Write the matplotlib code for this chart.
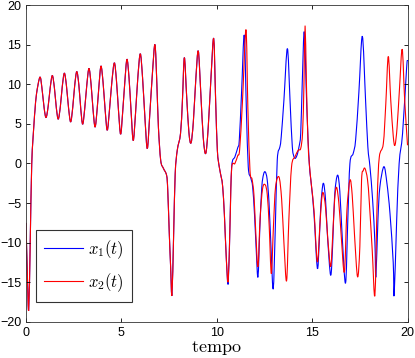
import matplotlib
matplotlib.use("Agg")
import matplotlib.pyplot as plt
from matplotlib.path import Path
from matplotlib.patches import PathPatch
from matplotlib.lines import Line2D
import numpy as np

plt.rcParams['mathtext.fontset'] = 'cm'
plt.rcParams['font.family'] = ['Liberation Sans', 'DejaVu Sans']

# shared part (both trajectories coincide up to t ~ 10.6)
t_common = [0.00, 0.07, 0.14, 0.22, 0.30, 0.42, 0.47, 0.55, 0.73, 0.84, 0.95, 1.05,
            1.16, 1.27, 1.38, 1.49, 1.59, 1.69, 1.80, 1.90, 2.01, 2.12, 2.23, 2.34,
            2.45, 2.55, 2.66, 2.77, 2.87, 2.97, 3.08, 3.19, 3.30, 3.41, 3.51, 3.62,
            3.73, 3.83, 3.93, 4.04, 4.15, 4.26, 4.38, 4.50, 4.63, 4.74, 4.85, 4.96,
            5.07, 5.18, 5.29, 5.40, 5.51, 5.62, 5.74, 5.86, 5.99, 6.11, 6.24, 6.36,
            6.49, 6.63, 6.76, 6.86, 6.94, 7.06, 7.20, 7.37, 7.43, 7.51, 7.58, 7.65,
            7.74, 7.82, 7.93, 8.10, 8.20, 8.30, 8.42, 8.54, 8.65, 8.77, 8.90, 9.03,
            9.16, 9.29, 9.42, 9.55, 9.70, 9.84, 9.94, 10.03, 10.13, 10.24, 10.31,
            10.40, 10.50]
x_common = [-7.5, -14.0, -18.5, -10.0, 0.0, 5.1, 6.7, 8.8, 10.9, 9.4, 7.0, 5.8,
            7.2, 9.6, 11.1, 9.5, 7.0, 5.6, 7.2, 9.7, 11.4, 9.8, 7.0, 5.25,
            7.1, 9.8, 11.6, 9.9, 6.9, 4.96, 7.0, 10.0, 12.0, 10.0, 6.9, 4.6,
            6.9, 10.0, 12.3, 10.2, 6.7, 4.2, 6.9, 10.3, 12.7, 10.5, 6.6, 3.7,
            6.6, 10.3, 13.15, 10.8, 6.5, 2.9, 6.3, 10.8, 13.85, 10.8, 5.5, 1.9,
            6.3, 11.5, 15.0, 10.0, 4.6, 0.4, -0.6, -1.5, -3.4, -8.8, -13.0, -16.6,
            -8.8, -1.3, 1.7, 3.8, 8.0, 13.36, 8.5, 3.9, 2.6, 5.2, 10.6, 14.2,
            9.0, 3.3, 1.26, 4.5, 11.0, 15.76, 8.0, 1.68, -0.42, -1.8, -2.95,
            -6.5, -12.0]

t_x1 = [10.60, 10.70, 10.78, 10.95, 11.10, 11.18, 11.30, 11.44, 11.55, 11.65, 11.78,
        11.88, 11.98, 12.07, 12.16, 12.26, 12.36, 12.45, 12.54, 12.64, 12.74, 12.85,
        12.96, 13.07, 13.17, 13.31, 13.38, 13.52, 13.70, 13.84, 13.96, 14.08, 14.20,
        14.31, 14.40, 14.48, 14.59, 14.72, 14.85, 14.97, 15.10, 15.27, 15.37, 15.45,
        15.58, 15.70, 15.80, 15.97, 16.08, 16.18, 16.33, 16.45, 16.57, 16.75, 16.87,
        16.98, 17.15, 17.28, 17.45, 17.63, 17.80, 17.92, 18.03, 18.17, 18.29, 18.34,
        18.45, 18.55, 18.76, 18.92, 19.08, 19.25, 19.30, 19.43, 19.56, 19.74, 19.95,
        20.00]
x_x1 = [-15.1, -7.0, -0.4, 0.84, 2.0, 2.94, 9.0, 16.2, 7.0, -0.4, -1.8,
        -2.95, -6.5, -11.0, -14.3, -8.0, -3.0, -1.4, -1.06, -2.0, -5.0, -11.0,
        -15.8, -8.0, 0.42, 2.1, 3.4, 8.0, 14.5, 8.0, 2.1, 0.7, 1.0,
        2.1, 3.8, 10.1, 16.6, 7.0, 0.0, -2.95, -6.5, -13.2, -10.0, -5.5,
        -2.5, -4.5, -9.0, -14.1, -10.0, -4.0, -1.47, -3.5, -9.0, -15.1, -7.0,
        0.0, 1.26, 3.0, 9.0, 16.05, 8.0, 2.1, -0.4, -4.6, -10.0, -14.3,
        -7.0, -2.95, -0.4, -2.5, -6.3, -12.5, -16.6, -7.2, 0.0, 3.8, 12.0,
        13.0]

t_x2 = [10.60, 10.70, 10.78, 10.95, 11.10, 11.20, 11.35, 11.53, 11.63, 11.74, 11.85,
        11.95, 12.05, 12.16, 12.27, 12.40, 12.54, 12.65, 12.75, 12.86, 12.97, 13.08,
        13.26, 13.40, 13.52, 13.66, 13.78, 13.92, 14.10, 14.27, 14.40, 14.50, 14.57,
        14.63, 14.70, 14.78, 14.85, 14.97, 15.10, 15.27, 15.40, 15.50, 15.58, 15.70,
        15.82, 15.97, 16.08, 16.18, 16.28, 16.40, 16.52, 16.69, 16.82, 16.98, 17.10,
        17.22, 17.38, 17.50, 17.59, 17.68, 17.77, 17.90, 18.00, 18.15, 18.29, 18.41,
        18.52, 18.73, 18.86, 18.99, 19.12, 19.25, 19.34, 19.45, 19.58, 19.72, 19.85,
        20.00]
x_x2 = [-14.8, -7.0, -0.6, 0.0, 1.0, 1.8, 8.0, 16.9, 7.0, -0.85, -2.0,
        -4.0, -9.0, -13.0, -7.0, -3.2, -2.7, -4.0, -8.0, -13.9, -8.0, -3.0,
        -1.7, -4.5, -10.0, -14.8, -7.0, -0.4, 0.84, 1.68, 1.9, 4.0, 10.0,
        17.4, 10.0, 3.0, 0.0, -2.95, -6.0, -12.4, -8.0, -4.5, -3.7, -5.5,
        -9.5, -13.0, -9.0, -4.5, -3.0, -5.0, -9.0, -13.7, -6.0, -2.1, -4.0,
        -9.0, -14.3, -10.5, -2.1, -0.9, -0.63, -2.0, -5.0, -11.0, -16.6, -4.6,
        0.8, 2.5, 7.5, 13.5, 8.0, 3.5, 2.3, 4.5, 9.5, 14.4, 8.0,
        2.3]

labels = [r'$x_1(t)$', r'$x_2(t)$']
x_ticks = [0, 5, 10, 15, 20]
y_ticks = [-20, -15, -10, -5, 0, 5, 10, 15, 20]


def smooth_path(t, y):
    """Bezier path through the read points (Catmull-Rom style control points)."""
    P = np.column_stack([t, y])
    n = len(P)
    verts = [P[0]]
    codes = [Path.MOVETO]
    for i in range(n - 1):
        p0 = P[i - 1] if i > 0 else P[i]
        p1 = P[i]
        p2 = P[i + 1]
        p3 = P[i + 2] if i + 2 < n else P[i + 1]
        c1 = p1 + (p2 - p0) / 6.0
        c2 = p2 - (p3 - p1) / 6.0
        verts += [c1, c2, p2]
        codes += [Path.CURVE4] * 3
    return Path(verts, codes)


t1 = np.array(t_common + t_x1)
y1 = np.array(x_common + x_x1)
t2 = np.array(t_common + t_x2)
y2 = np.array(x_common + x_x2)

fig = plt.figure(figsize=(4.15, 3.58), dpi=100)
ax = fig.add_axes([0.0627, 0.1006, 0.9193, 0.8854])
colors = ['#0000ff', '#ff0000']
for (tt, yy, c) in [(t1, y1, colors[0]), (t2, y2, colors[1])]:
    ax.add_patch(PathPatch(smooth_path(tt, yy), fill=False, edgecolor=c,
                           lw=0.8, transform=ax.transData, clip_on=True))
ax.set_xlim(0, 20)
ax.set_ylim(-20, 20)
ax.set_xticks(x_ticks)
ax.set_yticks(y_ticks)
ax.tick_params(direction='in', top=True, right=True, labelsize=9, length=3, width=0.6)
for s in ax.spines.values():
    s.set_linewidth(0.6)
    s.set_color('#333333')
ax.set_xlabel(r'$\mathrm{tempo}$', fontsize=13, labelpad=0)
handles = [Line2D([], [], color=colors[0], lw=0.8),
           Line2D([], [], color=colors[1], lw=0.8)]
leg = ax.legend(handles, labels, loc='lower left', bbox_to_anchor=(0.025, 0.063),
                borderaxespad=0, fontsize=12, frameon=True, fancybox=False,
                edgecolor='black', handlelength=2.35, handletextpad=0.3,
                labelspacing=0.62, borderpad=0.5)
leg.get_frame().set_linewidth(0.8)
fig.savefig('out.png', dpi=100)
